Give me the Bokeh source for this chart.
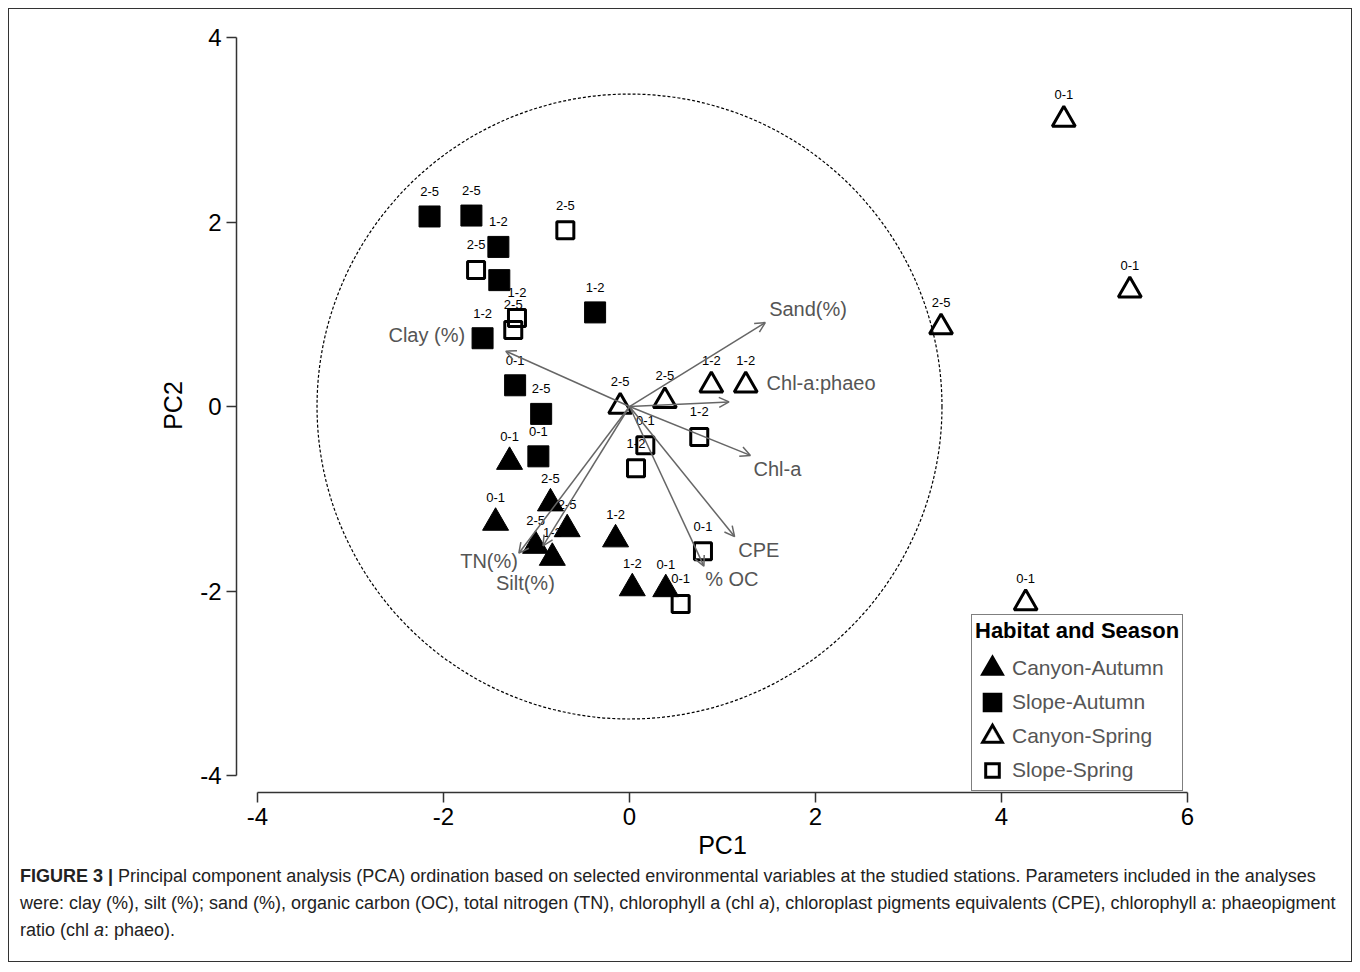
from bokeh.plotting import figure
from bokeh.models import (ColumnDataSource, Arrow, OpenHead, FixedTicker, Legend,
                          LegendItem, Div, Range1d)
from bokeh.layouts import column
from bokeh.core.properties import value
from bokeh.embed import file_html
from bokeh.resources import INLINE

# ---------------- data (PC1, PC2 scores) ----------------
canyon_autumn_x = [-1.29, -1.44, -0.85, -0.67, -1.01, -0.83, -0.15, 0.03, 0.39]
canyon_autumn_y = [-0.60, -1.26, -1.05, -1.33, -1.51, -1.64, -1.44, -1.97, -1.98]
canyon_autumn_lab = ["0-1", "0-1", "2-5", "2-5", "2-5", "1-2", "1-2", "1-2", "0-1"]

slope_autumn_x = [-2.15, -1.70, -1.41, -1.40, -1.58, -0.37, -1.23, -0.95, -0.98]
slope_autumn_y = [2.06, 2.07, 1.73, 1.37, 0.74, 1.02, 0.23, -0.08, -0.54]
slope_autumn_lab = ["2-5", "2-5", "1-2", "", "1-2", "1-2", "0-1", "2-5", "0-1"]

canyon_spring_x = [-0.10, 0.38, 0.88, 1.25, 3.35, 4.67, 5.38, 4.26]
canyon_spring_y = [0.00, 0.06, 0.23, 0.23, 0.86, 3.11, 1.26, -2.13]
canyon_spring_lab = ["2-5", "2-5", "1-2", "1-2", "2-5", "0-1", "0-1", "0-1"]

slope_spring_x = [-0.69, -1.65, -1.21, -1.25, 0.17, 0.07, 0.75, 0.79, 0.55]
slope_spring_y = [1.91, 1.48, 0.96, 0.83, -0.42, -0.67, -0.33, -1.57, -2.14]
slope_spring_lab = ["2-5", "2-5", "1-2", "2-5", "0-1", "1-2", "1-2", "0-1", "0-1"]

# environmental vectors (biplot arrows) and their label anchors
var_names = ["Sand(%)", "Chl-a:phaeo", "Chl-a", "CPE", "% OC", "TN(%)", "Silt(%)", "Clay (%)"]
var_x = [1.46, 1.07, 1.30, 1.13, 0.80, -1.19, -0.93, -1.33]
var_y = [0.91, 0.05, -0.53, -1.41, -1.73, -1.59, -1.51, 0.60]
var_label_x = [1.92, 2.06, 1.59, 1.39, 1.10, -1.51, -1.12, -2.18]
var_label_y = [1.06, 0.25, -0.68, -1.56, -1.87, -1.67, -1.91, 0.77]

circle_radius = [3.36]

x_ticks = [-4, -2, 0, 2, 4, 6]
y_ticks = [-4, -2, 0, 2, 4]
groups = ["Canyon-Autumn", "Slope-Autumn", "Canyon-Spring", "Slope-Spring"]

FONT = "Liberation Sans"

p = figure(width=1342, height=854,
           x_range=Range1d(-4.226, 6.226), y_range=Range1d(-4.184, 4.206),
           output_backend="svg", toolbar_location=None,
           min_border_left=227, min_border_right=143,
           min_border_top=9, min_border_bottom=71)
p.grid.visible = False
p.outline_line_color = None
p.background_fill_color = "white"
p.border_fill_color = "white"
# a range far from the view, used only by the legend's sample glyphs
p.extra_y_ranges = {"legend_only": Range1d(start=-1000, end=-999)}

for ax, ticks, lab in ((p.xaxis, x_ticks, "PC1"), (p.yaxis, y_ticks, "PC2")):
    ax.ticker = FixedTicker(ticks=ticks)
    ax.major_label_overrides = {t: str(t) for t in ticks}
    ax.bounds = (min(ticks), max(ticks))
    ax.major_tick_out = 10
    ax.major_tick_in = 0
    ax.minor_tick_out = 0
    ax.minor_tick_in = 0
    ax.axis_line_width = 1.5
    ax.axis_line_color = "#333333"
    ax.major_tick_line_width = 1.5
    ax.major_tick_line_color = "#333333"
    ax.major_label_text_font = FONT
    ax.major_label_text_font_size = "24px"
    ax.major_label_text_color = "black"
    ax.axis_label = lab
    ax.axis_label_text_font = FONT
    ax.axis_label_text_font_size = "25px"
    ax.axis_label_text_font_style = "normal"
    ax.axis_label_text_color = "black"
p.xaxis.major_label_standoff = 5
p.xaxis.axis_label_standoff = 3
p.yaxis.major_label_standoff = 5
p.yaxis.axis_label_standoff = 10

# dotted equilibrium circle
p.circle(x=[0], y=[0], radius=circle_radius, fill_color=None, line_color="black",
         line_width=1.2, line_dash="3 2")

# samples
r_ca = p.scatter(canyon_autumn_x, canyon_autumn_y, marker="triangle", size=26,
                 fill_color="black", line_color="black")
r_sa = p.scatter(slope_autumn_x, slope_autumn_y, marker="square", size=21,
                 fill_color="black", line_color="black")
r_cs = p.scatter(canyon_spring_x, canyon_spring_y, marker="triangle", size=23,
                 fill_color=None, line_color="black", line_width=3)
r_ss = p.scatter(slope_spring_x, slope_spring_y, marker="square", size=17,
                 fill_color=None, line_color="black", line_width=3)

lab_src = ColumnDataSource(dict(
    x=canyon_autumn_x + slope_autumn_x + canyon_spring_x + slope_spring_x,
    y=canyon_autumn_y + slope_autumn_y + canyon_spring_y + slope_spring_y,
    t=canyon_autumn_lab + slope_autumn_lab + canyon_spring_lab + slope_spring_lab))
p.text(x="x", y="y", text="t", source=lab_src, y_offset=-25, text_align="center",
       text_baseline="middle", text_font=value(FONT), text_font_size="13px",
       text_color="black")

# biplot arrows
arr_src = ColumnDataSource(dict(x0=[0] * len(var_x), y0=[0] * len(var_y), x1=var_x, y1=var_y))
p.add_layout(Arrow(end=OpenHead(size=10, line_color="#666666", line_width=1.5),
                   source=arr_src, x_start="x0", y_start="y0", x_end="x1", y_end="y1",
                   line_color="#666666", line_width=1.5))
p.text(x=var_label_x, y=var_label_y, text=var_names, text_align="center",
       text_baseline="middle", text_font=value(FONT), text_font_size="20px",
       text_color="#555555")

# legend sample glyphs: same data, mapped to an off-view range, stroked to reference size
lg_ca = p.scatter(canyon_autumn_x, canyon_autumn_y, y_range_name="legend_only",
                  marker="triangle", fill_color="black", line_color="black",
                  line_width=6.5, line_join="miter")
lg_sa = p.scatter(slope_autumn_x, slope_autumn_y, y_range_name="legend_only",
                  marker="square", fill_color="black", line_color="black",
                  line_width=6, line_join="miter")
lg_cs_out = p.scatter(canyon_spring_x, canyon_spring_y, y_range_name="legend_only",
                      marker="triangle", fill_color="black", line_color="black",
                      line_width=6.5, line_join="miter")
lg_cs_in = p.scatter(canyon_spring_x, canyon_spring_y, y_range_name="legend_only",
                     marker="triangle", fill_color="white", line_color="white",
                     line_width=0.6, line_join="miter")
lg_ss = p.scatter(slope_spring_x, slope_spring_y, y_range_name="legend_only",
                  marker="square", fill_color=None, line_color="black",
                  line_width=3, line_join="miter")

legend = Legend(
    items=[LegendItem(label=groups[0], renderers=[lg_ca], index=0),
           LegendItem(label=groups[1], renderers=[lg_sa], index=0),
           LegendItem(label=groups[2], renderers=[lg_cs_out, lg_cs_in], index=0),
           LegendItem(label=groups[3], renderers=[lg_ss], index=0)],
    location=(735, 1), title="Habitat and Season",
    title_text_font=FONT, title_text_font_size="22px", title_text_font_style="bold",
    title_text_color="black", title_standoff=7,
    label_text_font=FONT, label_text_font_size="21px", label_text_color="#555555",
    glyph_width=34, glyph_height=34, spacing=0, padding=3, label_standoff=3,
    border_line_color="black", border_line_width=1.5, background_fill_color="white",
    background_fill_alpha=1.0, margin=0)
p.add_layout(legend)

caption = Div(
    text=("<b>FIGURE 3 |</b> Principal component analysis (PCA) ordination based on selected "
          "environmental variables at the studied stations. Parameters included in the analyses "
          "were: clay (%), silt (%); sand (%), organic carbon (OC), total nitrogen (TN), "
          "chlorophyll a (chl <i>a</i>), chloroplast pigments equivalents (CPE), chlorophyll a: "
          "phaeopigment ratio (chl <i>a</i>: phaeo)."),
    width=1342, margin=(0, 0, 0, 0),
    styles={"font-family": "'Liberation Sans', Arial, sans-serif", "font-size": "18px",
            "line-height": "27px", "color": "#222222", "padding": "0px 4px 17px 11px",
            "box-sizing": "border-box"})

layout = column(p, caption, margin=(8, 8, 8, 8), styles={"border": "1px solid #333333"})

open("out.html", "w").write(file_html(layout, INLINE))
